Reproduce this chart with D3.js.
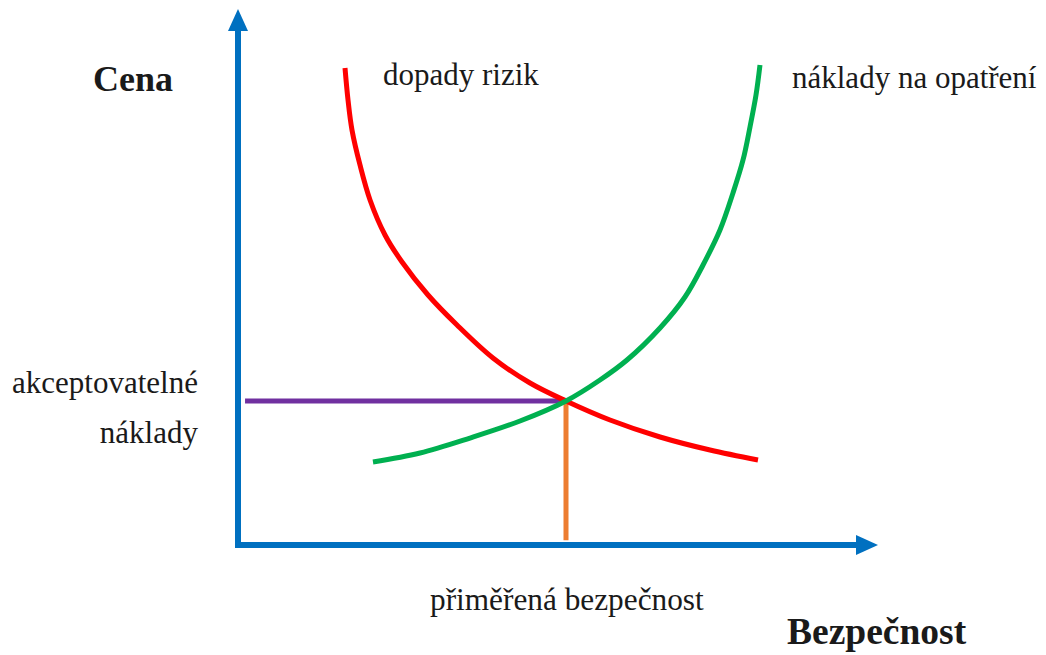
<!DOCTYPE html>
<html>
<head>
<meta charset="utf-8">
<script src="https://cdn.jsdelivr.net/npm/d3@7"></script>
<style>
  body { margin: 0; background: #fff; }
  text { font-family: "Liberation Serif", "Times New Roman", serif; fill: #1a1a1a; }
</style>
</head>
<body>
<div id="chart"></div>
<script>
// Curve points (Bezpečnost on x, Cena on y, 0..10 units)
const riskX = [1.672, 1.719, 1.781, 1.906, 2.063, 2.297, 2.563, 2.969, 3.422, 3.984, 4.563, 5.125, 5.813, 6.594, 7.375, 8.125];
const riskY = [8.899, 8.302, 7.743, 7.090, 6.437, 5.784, 5.280, 4.664, 4.104, 3.489, 3.022, 2.687, 2.332, 2.015, 1.772, 1.586];

const costX = [2.109, 2.844, 3.625, 4.406, 5.125, 5.656, 6.078, 6.594, 6.984, 7.266, 7.531, 7.734, 7.891, 8.000, 8.094, 8.156];
const costY = [1.549, 1.716, 1.996, 2.313, 2.687, 3.078, 3.451, 4.049, 4.627, 5.224, 5.877, 6.567, 7.183, 7.799, 8.396, 8.955];

// Optimum point (where the curves cross)
const optimum = { x: 5.125, y: 2.687 };

const labels = {
  yAxis: "Cena",
  xAxis: "Bezpečnost",
  risk: "dopady rizik",
  cost: "náklady na opatření",
  accepted: ["akceptovatelné", "náklady"],
  adequate: "přiměřená bezpečnost"
};

const width = 1046, height = 655;

const svg = d3.select("#chart").append("svg")
    .attr("width", width)
    .attr("height", height);

// Scales
const xScale = d3.scaleLinear().domain([0, 10]).range([238, 878]);
const yScale = d3.scaleLinear().domain([0, 10]).range([545, 9]);

const blue = "#0070C0";

// Axes with arrowheads
svg.append("line")
   .attr("x1", xScale(0)).attr("x2", xScale(0))
   .attr("y1", yScale(0) + 3).attr("y2", yScale(10) + 20)
   .attr("stroke", blue).attr("stroke-width", 6);

svg.append("path")
   .attr("d", `M${xScale(0)},${yScale(10)} L${xScale(0) - 10},${yScale(10) + 22} L${xScale(0) + 10},${yScale(10) + 22} Z`)
   .attr("fill", blue);

svg.append("line")
   .attr("x1", xScale(0) - 3).attr("x2", xScale(10) - 20)
   .attr("y1", yScale(0)).attr("y2", yScale(0))
   .attr("stroke", blue).attr("stroke-width", 6);

svg.append("path")
   .attr("d", `M${xScale(10)},${yScale(0)} L${xScale(10) - 22},${yScale(0) - 10} L${xScale(10) - 22},${yScale(0) + 10} Z`)
   .attr("fill", blue);

// Line generator
const line = d3.line()
    .x(d => xScale(d[0]))
    .y(d => yScale(d[1]))
    .curve(d3.curveCatmullRom.alpha(0.5));

// Purple horizontal - acceptable cost
svg.append("line")
   .attr("x1", xScale(0.11)).attr("x2", xScale(optimum.x))
   .attr("y1", yScale(optimum.y)).attr("y2", yScale(optimum.y))
   .attr("stroke", "#7030A0").attr("stroke-width", 5);

// Orange vertical - adequate security
svg.append("line")
   .attr("x1", xScale(optimum.x)).attr("x2", xScale(optimum.x))
   .attr("y1", yScale(optimum.y)).attr("y2", yScale(0.09))
   .attr("stroke", "#ED7D31").attr("stroke-width", 5);

// Risk impact curve
svg.append("path")
   .datum(riskX.map((x, i) => [x, riskY[i]]))
   .attr("d", line)
   .attr("fill", "none")
   .attr("stroke", "#FF0000")
   .attr("stroke-width", 5);

// Cost of measures curve
svg.append("path")
   .datum(costX.map((x, i) => [x, costY[i]]))
   .attr("d", line)
   .attr("fill", "none")
   .attr("stroke", "#00B050")
   .attr("stroke-width", 5);

// Labels
svg.append("text").attr("x", 93).attr("y", 91)
   .style("font-size", "36px").style("font-weight", "bold")
   .text(labels.yAxis);

svg.append("text").attr("x", 787).attr("y", 644)
   .style("font-size", "37.5px").style("font-weight", "bold")
   .text(labels.xAxis);

svg.append("text").attr("x", 383).attr("y", 85)
   .style("font-size", "31px")
   .text(labels.risk);

svg.append("text").attr("x", 792).attr("y", 88)
   .style("font-size", "31px")
   .text(labels.cost);

svg.append("text").attr("x", 198).attr("y", 393)
   .attr("text-anchor", "end")
   .style("font-size", "31px")
   .text(labels.accepted[0]);

svg.append("text").attr("x", 198).attr("y", 443)
   .attr("text-anchor", "end")
   .style("font-size", "31px")
   .text(labels.accepted[1]);

svg.append("text").attr("x", 430).attr("y", 610)
   .style("font-size", "31.3px")
   .text(labels.adequate);
</script>
</body>
</html>
